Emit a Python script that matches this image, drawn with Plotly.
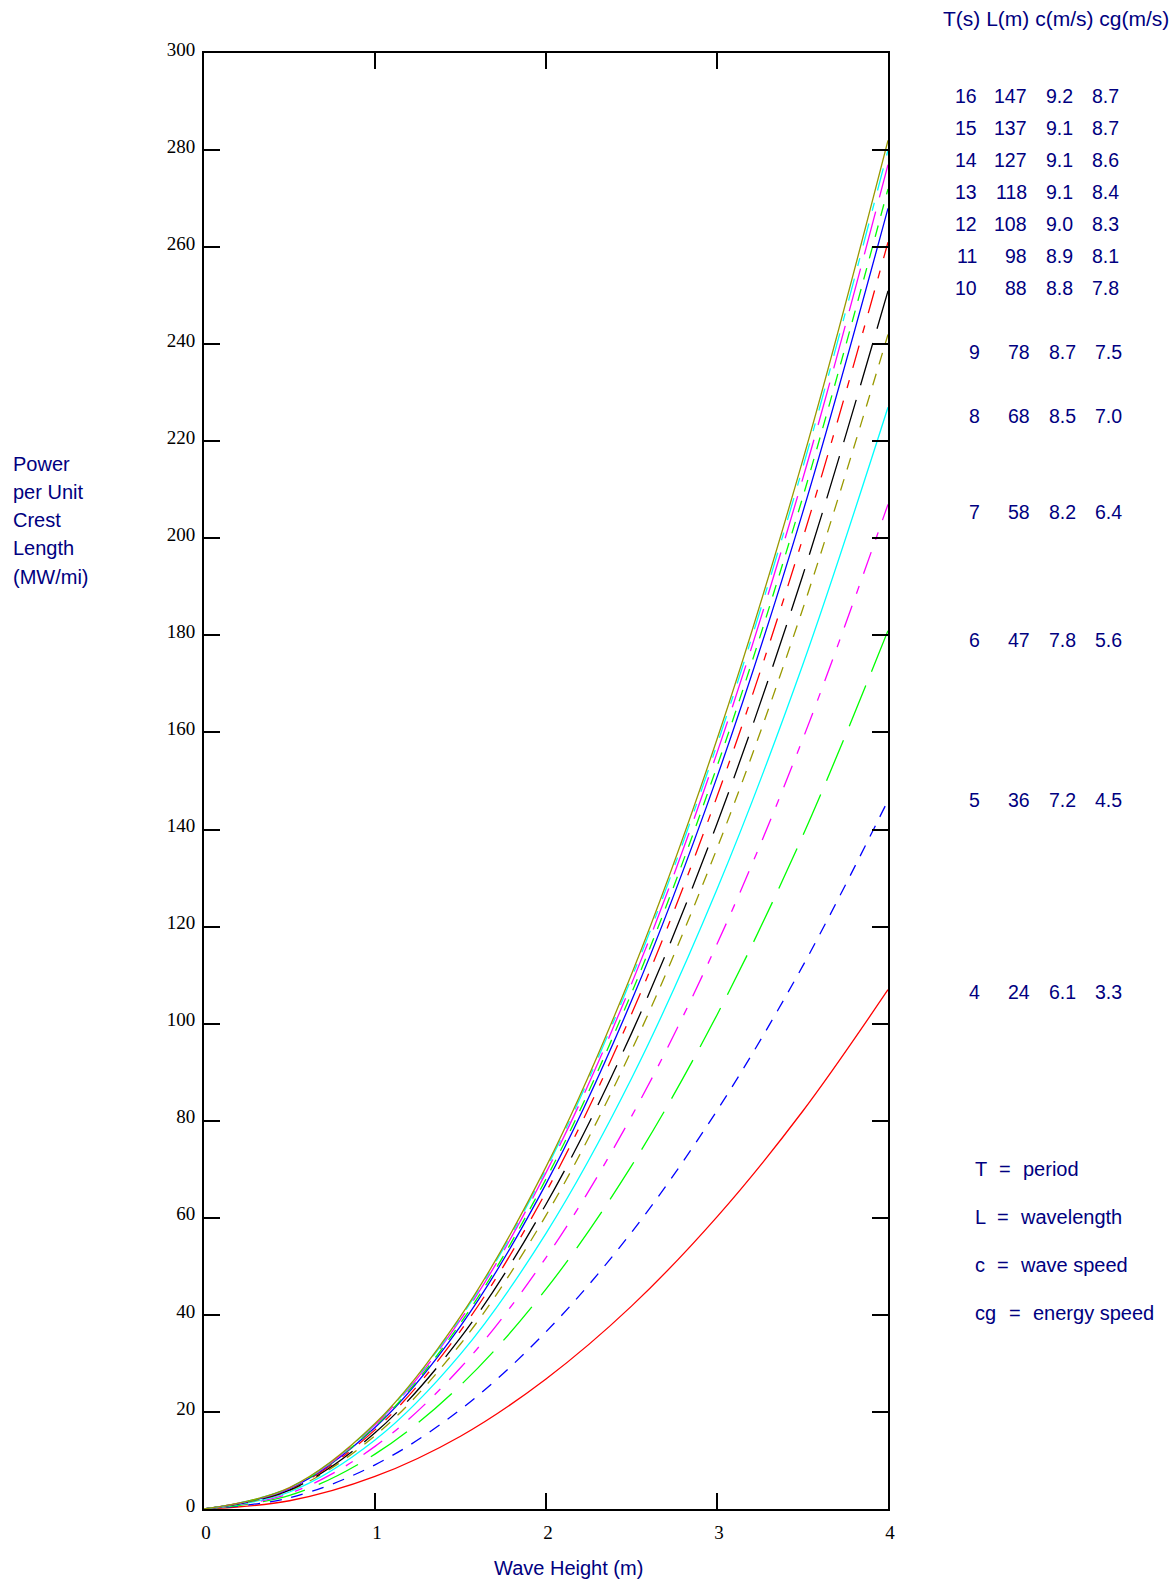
import plotly.graph_objects as go

# ---------------- data ----------------
wave_height = [0, 0.5, 1.0, 1.5, 2.0, 2.5, 3.0, 3.5, 4.0]

periods = [4, 5, 6, 7, 8, 9, 10, 11, 12, 13, 14, 15, 16]
wavelengths = [24, 36, 47, 58, 68, 78, 88, 98, 108, 118, 127, 137, 147]
wave_speeds = ["6.1", "7.2", "7.8", "8.2", "8.5", "8.7", "8.8", "8.9", "9.0", "9.1", "9.1", "9.1", "9.2"]
energy_speeds = ["3.3", "4.5", "5.6", "6.4", "7.0", "7.5", "7.8", "8.1", "8.3", "8.4", "8.6", "8.7", "8.7"]

power_T4 = [0, 1.7, 6.7, 15.0, 26.8, 41.8, 60.2, 81.9, 107]
power_T5 = [0, 2.3, 9.1, 20.5, 36.5, 57.0, 82.1, 111.8, 146]
power_T6 = [0, 2.8, 11.3, 25.5, 45.3, 70.7, 101.8, 138.6, 181]
power_T7 = [0, 3.2, 12.9, 29.1, 51.8, 80.9, 116.4, 158.5, 207]
power_T8 = [0, 3.5, 14.2, 31.9, 56.8, 88.7, 127.7, 173.8, 227]
power_T9 = [0, 3.8, 15.1, 34.0, 60.5, 94.5, 136.1, 185.3, 242]
power_T10 = [0, 3.9, 15.7, 35.3, 62.8, 98.0, 141.2, 192.2, 251]
power_T11 = [0, 4.1, 16.3, 36.7, 65.3, 102.0, 146.8, 199.8, 261]
power_T12 = [0, 4.2, 16.8, 37.7, 67.0, 104.7, 150.8, 205.2, 268]
power_T13 = [0, 4.3, 17.0, 38.3, 68.0, 106.3, 153.0, 208.3, 272]
power_T14 = [0, 4.3, 17.3, 39.0, 69.3, 108.2, 155.8, 212.1, 277]
power_T15 = [0, 4.4, 17.5, 39.4, 70.0, 109.4, 157.5, 214.4, 280]
power_T16 = [0, 4.4, 17.6, 39.7, 70.5, 110.2, 158.6, 215.9, 282]

power_series = [power_T4, power_T5, power_T6, power_T7, power_T8, power_T9, power_T10,
                power_T11, power_T12, power_T13, power_T14, power_T15, power_T16]

y_ticks = list(range(0, 301, 20))
x_ticks = [0, 1, 2, 3, 4]

legend_symbols = ["T", "L", "c", "cg"]
legend_meanings = ["period", "wavelength", "wave speed", "energy speed"]

# ---------------- styles / layout ----------------
colors = ["#FF0000", "#0000FF", "#00FF00", "#FF00FF", "#00FFFF", "#999900", "#000000"]
dashes = ["solid", "12px,10px", "44px,15px", "23px,13px,8px,13px"]
NAVY = "#000080"
SANS = "Liberation Sans, Arial, sans-serif"
SERIF = "Liberation Serif, Times New Roman, serif"

FIG_W, FIG_H = 1176, 1585
# plot area in page pixels
L_PX, R_PX, T_PX, B_PX = 204, 888, 53, 1509

def px(x):
    return (x - L_PX) / (R_PX - L_PX)

def py(y):
    return (B_PX - y) / (B_PX - T_PX)

fig = go.Figure()
for i, series in enumerate(power_series):
    fig.add_trace(go.Scatter(
        x=wave_height, y=series, mode="lines",
        line=dict(color=colors[i % len(colors)], width=1.3, dash=dashes[i % len(dashes)],
                  shape="spline", smoothing=1.0),
        showlegend=False, hoverinfo="skip"))

ann = []

def add_text(text, x, y, size=20, anchor="left"):
    ann.append(dict(text=text, x=px(x), y=py(y), xref="paper", yref="paper",
                    xanchor=anchor, yanchor="middle", showarrow=False,
                    font=dict(family=SANS, size=size, color=NAVY)))

# y-axis title lines
for text, yc in zip(["Power", "per Unit", "Crest", "Length", "(MW/mi)"], [464, 492, 520, 548, 577]):
    add_text(text, 11, yc)
# x-axis title
add_text("Wave Height (m)", 568, 1568, size=20, anchor="center")
# table header
add_text("T(s) L(m) c(m/s) cg(m/s)", 941, 18, size=21)
# table rows
row_y_px = [992, 800, 640, 512, 416, 352, 288, 256, 224, 192, 160, 128, 96]
col_x_px = [979, 1029, 1075, 1121]
for i in range(len(periods)):
    shift = 3 if periods[i] < 10 else 0
    vals = [str(periods[i]), str(wavelengths[i]), wave_speeds[i], energy_speeds[i]]
    for v, cx in zip(vals, col_x_px):
        add_text(v, cx + shift, row_y_px[i], size=19.5, anchor="right")
# definitions legend
leg_y = [1169, 1217, 1265, 1313]
eq_x = [997, 995, 995, 1007]
txt_x = [1021, 1018, 1018, 1031]
for s, m, yc, ex, tx in zip(legend_symbols, legend_meanings, leg_y, eq_x, txt_x):
    add_text(s, 973, yc)
    add_text("=", ex, yc)
    add_text(m, tx, yc)

axis_common = dict(showgrid=False, zeroline=False, showline=True, linecolor="black", linewidth=2,
                   mirror="ticks", ticks="inside", ticklen=16, tickwidth=2, tickcolor="black",
                   tickfont=dict(family=SERIF, size=19, color="black"))

fig.update_layout(
    width=FIG_W, height=FIG_H,
    margin=dict(l=L_PX, r=FIG_W - R_PX, t=T_PX, b=FIG_H - B_PX, pad=0),
    paper_bgcolor="white", plot_bgcolor="white",
    xaxis=dict(range=[0, 4], tickvals=x_ticks, ticktext=[str(v) for v in x_ticks],
               ticklabelstandoff=5, ticklabelshift=2, **axis_common),
    yaxis=dict(range=[0, 300], tickvals=y_ticks, ticktext=[str(v) for v in y_ticks],
               ticklabelstandoff=3, ticklabelshift=-4, **axis_common),
    annotations=ann,
)

fig.write_html(
    "out.html",
    config={"displayModeBar": False, "staticPlot": True},
    post_script="document.body.style.margin='0px';document.body.style.overflow='hidden';",
)
